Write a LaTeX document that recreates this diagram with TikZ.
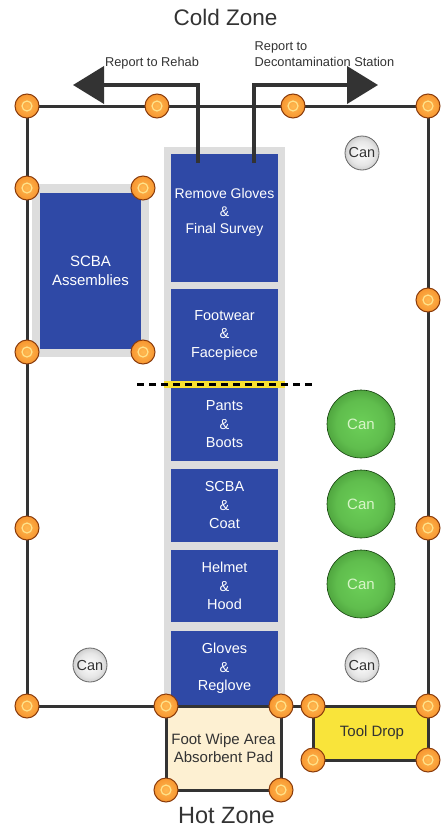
\documentclass[tikz,border=0pt]{standalone}
\usepackage{fontspec}
\setmainfont{Liberation Sans}
\usetikzlibrary{arrows.meta}
\definecolor{linedark}{HTML}{333333}
\definecolor{boxblue}{HTML}{2F49A6}
\definecolor{corridor}{HTML}{DDDDDD}
\definecolor{stripyellow}{HTML}{F8E030}
\definecolor{padcream}{HTML}{FDF0D2}
\definecolor{toolyellow}{HTML}{F9E43A}
\definecolor{dotedge}{HTML}{8A3C0C}
\definecolor{dotin}{HTML}{FFB850}
\definecolor{dotout}{HTML}{EE6E0A}
\definecolor{dotring}{HTML}{FFE28A}
\definecolor{gin}{HTML}{6CCF58}
\definecolor{gout}{HTML}{1A5810}
\definecolor{cin}{HTML}{FFFFFF}
\definecolor{cout}{HTML}{808080}
\definecolor{cantxt}{HTML}{D8F5C8}
\pgfdeclareradialshading{orangeball}{\pgfpoint{0bp}{0bp}}{color(0bp)=(dotin); color(22bp)=(dotin!60!dotout); color(50bp)=(dotout)}
\pgfdeclareradialshading{greenball}{\pgfpoint{0bp}{0bp}}{color(0bp)=(gin); color(18bp)=(gin!85!gout); color(50bp)=(gout)}
\pgfdeclareradialshading{greyball}{\pgfpoint{0bp}{0bp}}{color(0bp)=(cin); color(18bp)=(cin!80!cout); color(50bp)=(cout)}
\tikzset{
  zonetext/.style={text=linedark, font=\fontsize{22.5}{26}\selectfont, inner sep=0},
  reporttext/.style={text=linedark, font=\fontsize{12.8}{16}\selectfont, inner sep=0, align=left},
  bluebox/.style={fill=boxblue, text=white, align=center, inner sep=0, font=\fontsize{14.5}{18.5}\selectfont},
  greybox/.style={fill=corridor, inner sep=0},
  bound/.style={draw=linedark, line width=3pt},
  exitline/.style={draw=linedark, line width=4pt, -{Triangle[length=31pt, width=37pt]}},
  odot/.style={circle, minimum size=24pt, inner sep=0, draw=dotedge, line width=1pt, shade, shading=orangeball,
     path picture={\draw[dotring, line width=1.2pt] (path picture bounding box.center) circle (5pt);}},
  greencan/.style={circle, minimum size=68pt, inner sep=0, draw=gout!70!black, line width=0.6pt, shade, shading=greenball,
     text=cantxt, font=\fontsize{15}{18}\selectfont},
  greycan/.style={circle, minimum size=34pt, inner sep=0, draw=black!60, line width=0.8pt, shade, shading=greyball,
     text=linedark, font=\fontsize{14.5}{16}\selectfont},
  padtext/.style={align=center, text=linedark, font=\fontsize{15}{18}\selectfont, inner sep=0},
}
\begin{document}
\begin{tikzpicture}[x=1pt, y=-1pt]
\useasboundingbox (0,0) rectangle (441,830);
\fill[white] (0,0) rectangle (441,830);

% corridor and SCBA area backgrounds
\node[greybox, minimum width=121pt, minimum height=559pt] (corr) at (224.5,426.5) {};
\node[greybox, minimum width=117pt, minimum height=173pt] (scbabg) at (90.5,270.5) {};
\node[bluebox, minimum width=101pt, minimum height=156pt, font=\fontsize{15}{19}\selectfont] (scba) at (90.5,271) {SCBA\\Assemblies};

% decon stations
\node[bluebox, minimum width=107pt, minimum height=128pt] (s1) at (224.5,218) {\raisebox{1.5pt}[0pt][0pt]{\fontsize{14}{17.5}\selectfont\begin{tabular}{@{}c@{}}Remove Gloves\\\&\\Final Survey\end{tabular}}};
\node[bluebox, minimum width=107pt, minimum height=93pt] (s2) at (224.5,335.5) {Footwear\\\&\\Facepiece};
\node[bluebox, minimum width=107pt, minimum height=73pt] (s3) at (224.5,424.5) {Pants\\\&\\Boots};
\node[bluebox, minimum width=107pt, minimum height=73pt] (s4) at (224.5,505.5) {SCBA\\\&\\Coat};
\node[bluebox, minimum width=107pt, minimum height=72pt] (s5) at (224.5,586) {Helmet\\\&\\Hood};
\node[bluebox, minimum width=107pt, minimum height=75pt] (s6) at (224.5,668.5) {Gloves\\\&\\Reglove};

% yellow strip and hot line
\node[fill=stripyellow, minimum width=121pt, minimum height=7pt, inner sep=0] (strip) at (224.5,384.5) {};
\coordinate (hl1) at (137,384.5);
\coordinate (hl2) at (312,384.5);
\draw[black, line width=2.6pt, dash pattern=on 7pt off 5pt] (hl1) -- (hl2);

% pad and tool drop
\node[fill=padcream, minimum width=115pt, minimum height=84pt, inner sep=0] (pad) at (223.5,748) {};
\node[fill=toolyellow, minimum width=115pt, minimum height=54pt, inner sep=0] (tool) at (370.5,733) {};

% boundary corners
\coordinate (c1) at (27,106);
\coordinate (c2) at (157,106);
\coordinate (c3) at (293,106);
\coordinate (c4) at (428,106);
\coordinate (c5) at (27,188);
\coordinate (c6) at (143,188);
\coordinate (c7) at (27,352);
\coordinate (c8) at (143,352);
\coordinate (c9) at (428,300);
\coordinate (c10) at (27,528);
\coordinate (c11) at (428,528);
\coordinate (c12) at (27,706);
\coordinate (c13) at (166,706);
\coordinate (c14) at (281,706);
\coordinate (c15) at (313,706);
\coordinate (c16) at (428,706);
\coordinate (c17) at (166,790);
\coordinate (c18) at (281,790);
\coordinate (c19) at (313,760);
\coordinate (c20) at (428,760);

\draw[bound] (c1) -- (c4) -- (c16) -- (c12) -- cycle;
\draw[bound] (c13) -- (c17) -- (c18) -- (c14);
\draw[bound] (c15) -- (c19) -- (c20) -- (c16);

% pad texts
\node[padtext] (padt) at (223.5,748) {Foot Wipe Area\\Absorbent Pad};
\node[padtext] (toolt) at (372,733) {Tool Drop};

% exit arrows
\coordinate (a1s) at (198,163);
\coordinate (a1m) at (198,85);
\coordinate (a1e) at (73,85);
\coordinate (a2s) at (254,163);
\coordinate (a2m) at (254,85);
\coordinate (a2e) at (378,85);
\draw[exitline] (a1s) -- (a1m) -- (a1e);
\draw[exitline] (a2s) -- (a2m) -- (a2e);

% cans
\node[greycan] (can1) at (362,153) {Can};
\node[greycan] (can2) at (90,665) {Can};
\node[greycan] (can3) at (362,665) {Can};
\node[greencan] (g1) at (361,424) {Can};
\node[greencan] (g2) at (361,504) {Can};
\node[greencan] (g3) at (361,584) {Can};

% orange markers
\foreach \i in {1,...,20} { \node[odot] (d\i) at (c\i) {}; }

% zone labels
\node[zonetext] (cold) at (225.5,17) {Cold Zone};
\node[zonetext, font=\fontsize{23.5}{27}\selectfont] (hot) at (226.5,816) {Hot Zone};
\node[reporttext, anchor=base] (rehab) at (152,66) {Report to Rehab};
\node[reporttext, anchor=base west] (decon1) at (254.5,50) {Report to};
\node[reporttext, anchor=base west] (decon2) at (254.5,66) {Decontamination Station};
\end{tikzpicture}
\end{document}
